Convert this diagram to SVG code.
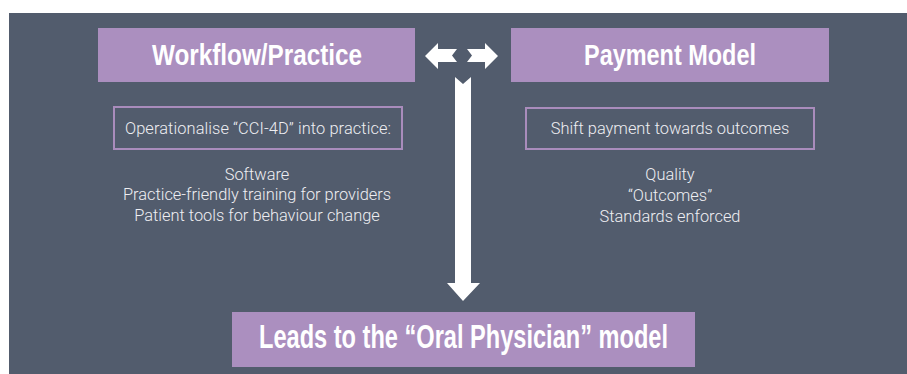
<svg xmlns="http://www.w3.org/2000/svg" width="907" height="374" viewBox="0 0 907 374">
<style>
.title{font-family:"Liberation Sans",Arial,sans-serif;font-weight:bold;fill:#ffffff;text-anchor:middle}
.body{font-family:Roboto,"Liberation Sans",sans-serif;font-weight:300;fill:#eeeef2;text-anchor:middle;font-size:16.4px}
.fill{fill:#ab8fbf}
.outline{fill:none;stroke:#a98cbc;stroke-width:2}
.arrow{fill:#ffffff}
</style>
<rect x="0" y="0" width="907" height="374" fill="#ffffff"/>
<rect x="9" y="13" width="898" height="361" fill="#525c6d"/>
<g id="workflow">
<rect class="fill" x="98" y="28" width="317" height="54"/>
<text class="title" x="257" y="65" font-size="30" textLength="210" lengthAdjust="spacingAndGlyphs">Workflow/Practice</text>
</g>
<g id="payment">
<rect class="fill" x="511" y="28" width="318" height="54"/>
<text class="title" x="670" y="65" font-size="30" textLength="172" lengthAdjust="spacingAndGlyphs">Payment Model</text>
</g>
<g id="workflow-detail">
<rect class="outline" x="114" y="107" width="288" height="42"/>
<text class="body" x="258" y="134" textLength="266">Operationalise “CCI-4D” into practice:</text>
<text class="body" x="257" y="180">Software</text>
<text class="body" x="257" y="200">Practice-friendly training for providers</text>
<text class="body" x="257" y="221">Patient tools for behaviour change</text>
</g>
<g id="payment-detail">
<rect class="outline" x="526" y="108" width="288" height="41"/>
<text class="body" x="670" y="134">Shift payment towards outcomes</text>
<text class="body" x="670" y="180">Quality</text>
<text class="body" x="670" y="201">“Outcomes”</text>
<text class="body" x="670" y="222">Standards enforced</text>
</g>
<g id="oral-physician">
<rect class="fill" x="232" y="312" width="463" height="55"/>
<text class="title" x="463.5" y="348" font-size="34" textLength="409" lengthAdjust="spacingAndGlyphs">Leads to the “Oral Physician” model</text>
</g>
<g id="connectors">
<polygon class="arrow" points="425,56 438,43 438,49 457,49 452,55.5 457,62 438,62 438,69"/>
<polygon class="arrow" points="498,56 485,43 485,49 467,49 472,55.5 467,62 485,62 485,69"/>
<polygon class="arrow" points="455,77 463,84 471,77 471,283 480,283 463,301 447,283 455,283"/>
</g>
</svg>
